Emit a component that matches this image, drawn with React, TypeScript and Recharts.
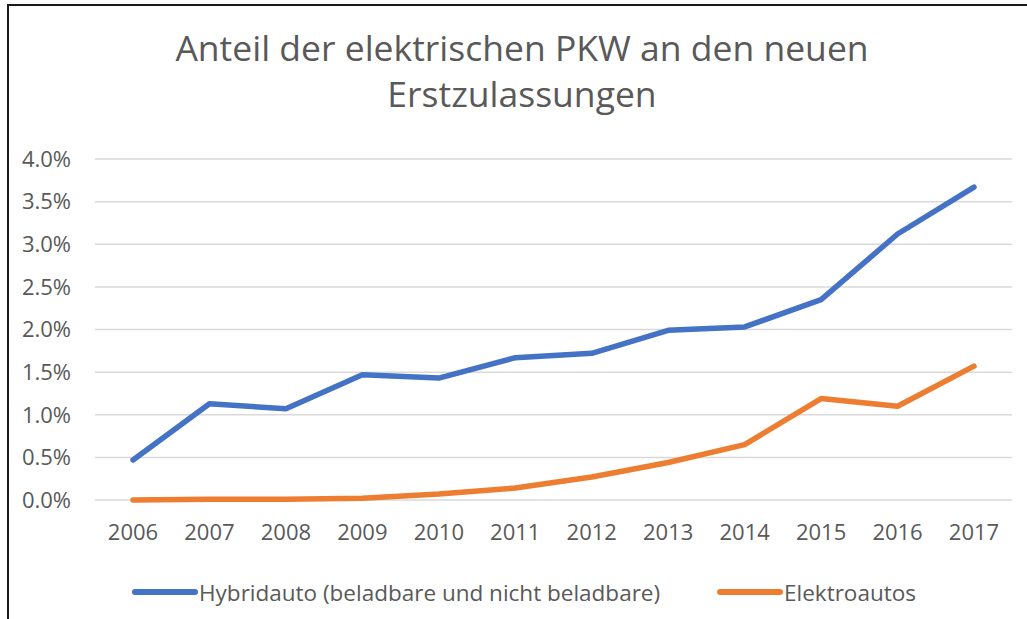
import { LineChart, Line, XAxis, YAxis, CartesianGrid, Legend } from 'recharts';

const years = ['2006', '2007', '2008', '2009', '2010', '2011', '2012', '2013', '2014', '2015', '2016', '2017'];
const hybrid = [0.47, 1.13, 1.07, 1.47, 1.43, 1.67, 1.72, 1.99, 2.03, 2.35, 3.12, 3.67];
const elektro = [0.0, 0.01, 0.01, 0.02, 0.07, 0.14, 0.27, 0.44, 0.65, 1.19, 1.1, 1.57];
const yTicks = [0, 0.5, 1, 1.5, 2, 2.5, 3, 3.5, 4];
const seriesNames = ['Hybridauto (beladbare und nicht beladbare)', 'Elektroautos'];
const colors = ['#4472C4', '#ED7D31'];

const data = years.map((year, i) => ({ year, hybrid: hybrid[i], elektro: elektro[i] }));

const FONT = '"Open Sans", sans-serif';
const TEXT = '#595959';

function LegendContent() {
  const positions = [132, 717];
  return (
    <div style={{ position: 'relative', width: 1027, height: 30 }}>
      {seriesNames.map((name, i) => (
        <div
          key={name}
          style={{ position: 'absolute', left: positions[i], top: 0, display: 'flex', alignItems: 'center', height: 30 }}
        >
          <svg width={66} height={10}>
            <line x1={3} y1={5} x2={63} y2={5} stroke={colors[i]} strokeWidth={6} strokeLinecap="round" />
          </svg>
          <span style={{ fontFamily: FONT, fontSize: 22.5, color: TEXT, marginLeft: 1 }}>{name}</span>
        </div>
      ))}
    </div>
  );
}

export default function App() {
  return (
    <div style={{ position: 'fixed', left: 0, top: 0, width: 1027, height: 619, background: '#fff', overflow: 'hidden' }}>
      <div
        style={{
          position: 'absolute',
          left: 7,
          top: 4,
          width: 1100,
          height: 700,
          border: '2px solid #1a1a1a',
        }}
      />
      <div
        style={{
          position: 'absolute',
          left: 0,
          top: 24,
          width: 1044,
          textAlign: 'center',
          fontFamily: FONT,
          fontSize: 35.5,
          lineHeight: '46px',
          color: TEXT,
        }}
      >
        Anteil der elektrischen PKW an den neuen
        <br />
        Erstzulassungen
      </div>
      <div style={{ position: 'absolute', left: 0, top: 0 }}>
        <LineChart width={1027} height={619} data={data} margin={{ top: 159, right: 15, bottom: 79, left: 35 }}>
          <CartesianGrid vertical={false} stroke="#d9d9d9" strokeWidth={1.5} />
          <XAxis
            dataKey="year"
            axisLine={false}
            tickLine={false}
            height={40}
            tickMargin={18}
            padding={{ left: 38, right: 38 }}
            tick={{ fill: TEXT, fontSize: 22, fontFamily: FONT }}
          />
          <YAxis
            domain={[0, 4]}
            ticks={yTicks}
            axisLine={false}
            tickLine={false}
            width={60}
            tickMargin={18}
            tickFormatter={(v: number) => `${v.toFixed(1)}%`}
            tick={{ fill: TEXT, fontSize: 22, fontFamily: FONT }}
          />
          <Legend
            verticalAlign="middle"
            align="center"
            wrapperStyle={{ top: 577, left: 0, width: 1027 }}
            content={() => <LegendContent />}
          />
          <Line
            type="linear"
            dataKey="hybrid"
            name={seriesNames[0]}
            stroke={colors[0]}
            strokeWidth={5.5}
            strokeLinecap="round"
            strokeLinejoin="round"
            dot={false}
            isAnimationActive={false}
          />
          <Line
            type="linear"
            dataKey="elektro"
            name={seriesNames[1]}
            stroke={colors[1]}
            strokeWidth={5.5}
            strokeLinecap="round"
            strokeLinejoin="round"
            dot={false}
            isAnimationActive={false}
          />
        </LineChart>
      </div>
    </div>
  );
}
